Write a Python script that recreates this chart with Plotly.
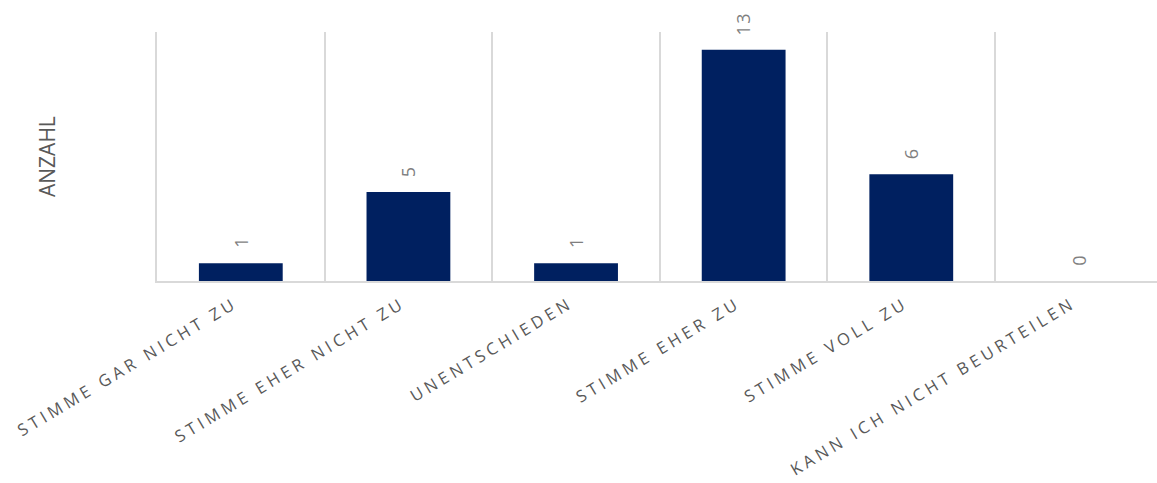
import plotly.graph_objects as go

# Survey answers and response counts
categories = [
    "STIMME GAR NICHT ZU",
    "STIMME EHER NICHT ZU",
    "UNENTSCHIEDEN",
    "STIMME EHER ZU",
    "STIMME VOLL ZU",
    "KANN ICH NICHT BEURTEILEN",
]
counts = [1, 5, 1, 13, 6, 0]
axis_title = "ANZAHL"

BAR_COLOR = "#002060"
GRID_COLOR = "#d9d9d9"
TEXT_COLOR = "#595959"
LABEL_COLOR = "#7f7f7f"
FONT = "Open Sans, Noto Sans, sans-serif"

fig = go.Figure(
    go.Bar(
        x=categories,
        y=counts,
        marker=dict(color=BAR_COLOR, line=dict(width=0)),
        hoverinfo="skip",
    )
)

# Value labels above each bar, rotated to read upwards
for cat, val in zip(categories, counts):
    fig.add_annotation(
        x=cat, y=val, xref="x", yref="y",
        text=str(val), showarrow=False, textangle=-90,
        xanchor="center", yanchor="bottom", yshift=14,
        font=dict(family=FONT, size=18, color=LABEL_COLOR),
    )

# Vertical axis title
fig.add_annotation(
    x=-0.1105, y=0.5, xref="paper", yref="paper",
    text=axis_title, showarrow=False, textangle=-90,
    xanchor="center", yanchor="middle",
    font=dict(family=FONT, size=21, color=TEXT_COLOR),
)

fig.update_layout(
    width=1157, height=483,
    margin=dict(l=157, r=0, t=32, b=202),
    paper_bgcolor="white", plot_bgcolor="white",
    bargap=0.5, showlegend=False,
    xaxis=dict(
        type="category",
        range=[-0.5, 5.466],
        tickson="boundaries",
        showgrid=True, gridcolor=GRID_COLOR, gridwidth=1.5,
        showline=True, linecolor=GRID_COLOR, linewidth=1.5,
        ticks="", tickangle=-31, ticklabelstandoff=5, ticklabelshift=-6,
        tickfont=dict(family=FONT, size=16.5, color=TEXT_COLOR),
    ),
    yaxis=dict(
        range=[0, 14],
        showgrid=False, zeroline=False,
        showline=True, linecolor=GRID_COLOR, linewidth=1.5,
        showticklabels=False, ticks="",
    ),
)

# Widen character spacing of the category and value labels
post = """
var gd = document.getElementById('{plot_id}');
function spacing() {
  gd.querySelectorAll('.xtick text').forEach(function (t) {
    t.style.letterSpacing = '4px';
  });
  for (var i = 0; i < 6; i++) {
    gd.querySelectorAll('g.annotation[data-index="' + i + '"] text').forEach(function (t) {
      t.style.letterSpacing = '1.5px';
    });
  }
}
spacing();
gd.on('plotly_afterplot', spacing);
"""

fig.write_html("out.html", post_script=post)
